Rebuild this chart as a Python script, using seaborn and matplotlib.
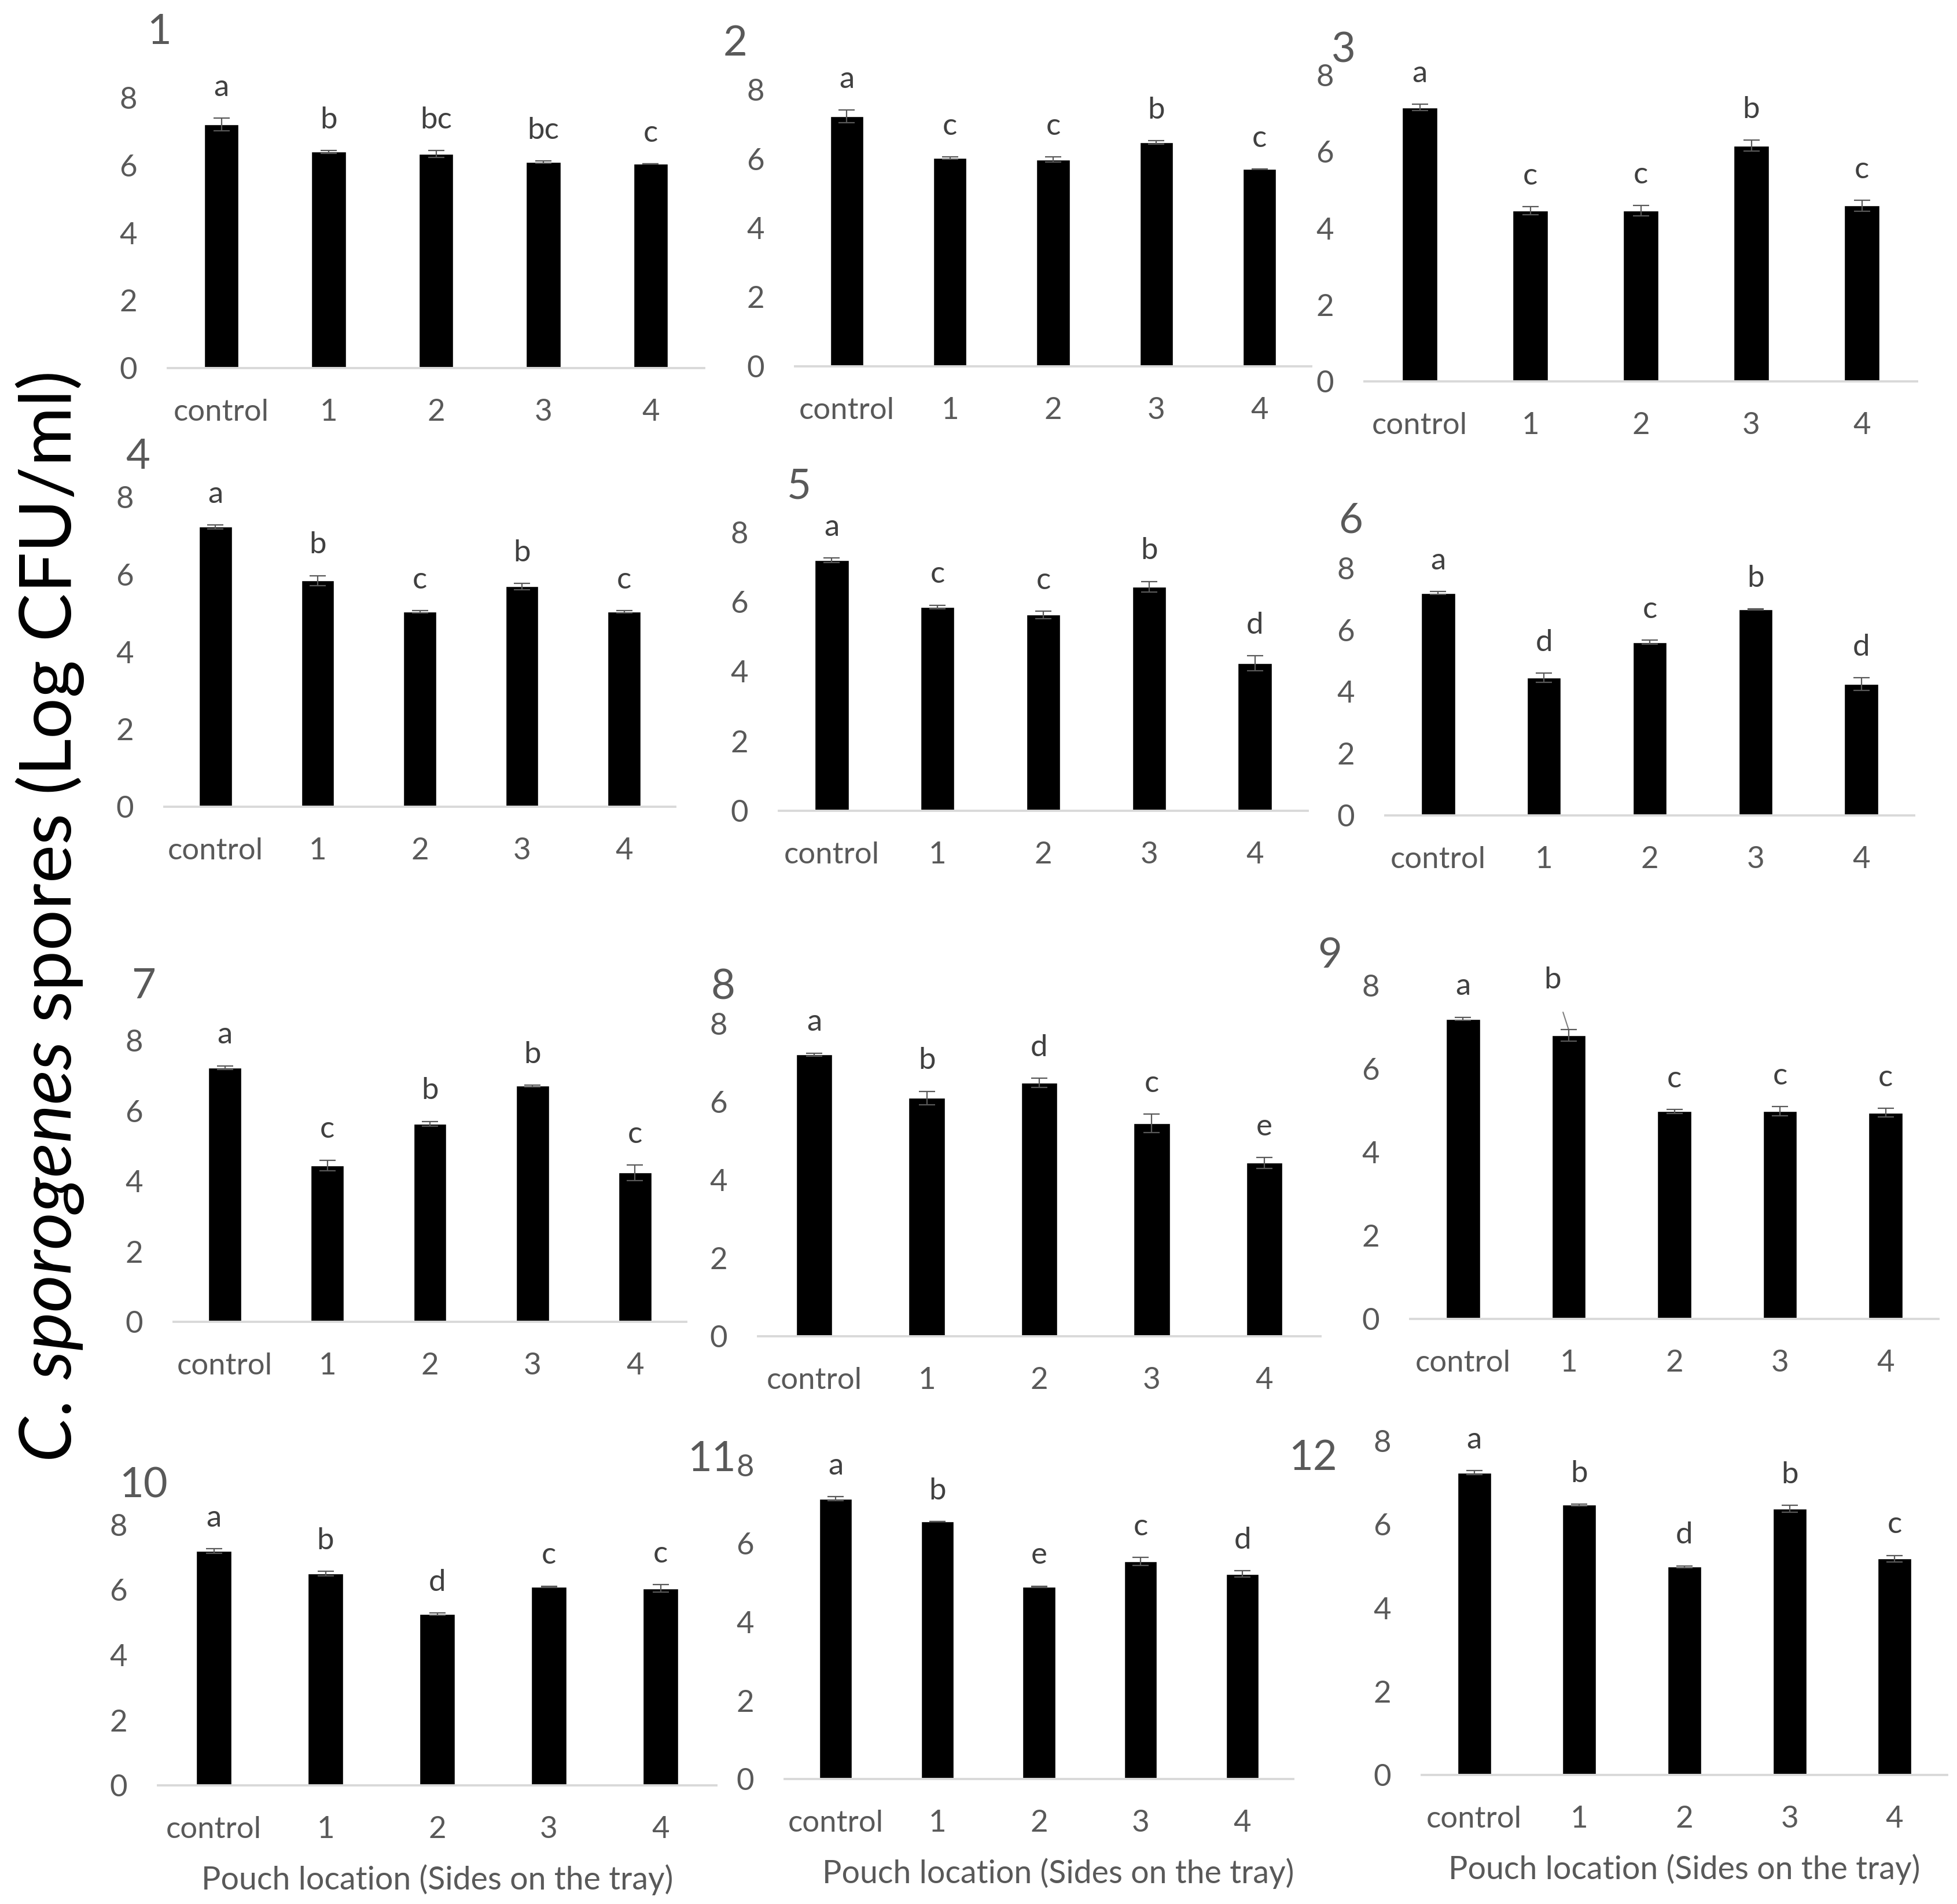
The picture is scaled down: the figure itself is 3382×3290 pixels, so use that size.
import matplotlib
matplotlib.use("Agg")
import matplotlib.pyplot as plt
import seaborn as sns
import numpy as np

# ---------------- data ----------------
CATEGORIES = ["control", "1", "2", "3", "4"]
PANEL_LABELS = ["1", "2", "3", "4", "5", "6", "7", "8", "9", "10", "11", "12"]
YTICKS = [0, 2, 4, 6, 8]

MEANS = [
    [7.21, 6.40, 6.34, 6.10, 6.04],   # 1
    [7.23, 6.03, 5.98, 6.48, 5.71],   # 2
    [7.16, 4.46, 4.46, 6.16, 4.59],   # 3
    [7.23, 5.84, 5.04, 5.69, 5.04],   # 4
    [7.20, 5.86, 5.63, 6.44, 4.24],   # 5
    [7.20, 4.45, 5.61, 6.67, 4.25],   # 6
    [7.23, 4.45, 5.63, 6.71, 4.24],   # 7
    [7.21, 6.10, 6.49, 5.45, 4.44],   # 8
    [7.20, 6.80, 4.98, 4.99, 4.95],   # 9
    [7.20, 6.50, 5.26, 6.10, 6.05],   # 10
    [7.15, 6.57, 4.90, 5.55, 5.23],   # 11
    [7.24, 6.47, 4.99, 6.38, 5.18],   # 12
]
ERRORS = [
    [0.19, 0.04, 0.10, 0.03, 0.00],
    [0.18, 0.03, 0.08, 0.05, 0.00],
    [0.08, 0.11, 0.13, 0.14, 0.14],
    [0.05, 0.13, 0.03, 0.08, 0.03],
    [0.07, 0.05, 0.10, 0.15, 0.21],
    [0.05, 0.15, 0.07, 0.02, 0.20],
    [0.05, 0.15, 0.07, 0.02, 0.22],
    [0.04, 0.17, 0.12, 0.24, 0.14],
    [0.04, 0.14, 0.05, 0.11, 0.10],
    [0.07, 0.07, 0.04, 0.02, 0.12],
    [0.05, 0.00, 0.02, 0.10, 0.08],
    [0.05, 0.02, 0.02, 0.08, 0.08],
]
LETTERS = [
    ["a", "b", "bc", "bc", "c"],
    ["a", "c", "c", "b", "c"],
    ["a", "c", "c", "b", "c"],
    ["a", "b", "c", "b", "c"],
    ["a", "c", "c", "b", "d"],
    ["a", "d", "c", "b", "d"],
    ["a", "c", "b", "b", "c"],
    ["a", "b", "d", "c", "e"],
    ["a", "b", "c", "c", "c"],
    ["a", "b", "d", "c", "c"],
    ["a", "b", "e", "c", "d"],
    ["a", "b", "d", "b", "c"],
]
XLABEL = "Pouch location (Sides on the tray)"

# ---------------- layout (pixels in a 3382x3290 canvas) ----------------
W, H = 3382, 3290
# (left, right, y of 0 tick, y of 8 tick)
AX_PX = [
    (290, 1217, 636, 169),
    (1374, 2266, 633, 155),
    (2358, 3313, 659, 130),
    (284, 1167, 1394, 859),
    (1346, 2260, 1401, 920),
    (2394, 3308, 1409, 982),
    (300, 1186, 2284, 1798),
    (1310, 2282, 2309, 1769),
    (2437, 3350, 2279, 1703),
    (273, 1238, 3085, 2635),
    (1356, 2235, 3074, 2532),
    (2457, 3365, 3067, 2490),
]
NUM_PX = [(275, 55), (1271, 75), (2322, 87), (238, 789), (1381, 841), (2334, 900),
          (248, 1705), (1249, 1706), (2298, 1651), (248, 2567), (1230, 2522), (2269, 2519)]
XLABEL_X = {9: 0.5, 10: 0.538, 11: 0.5}

GRAY = "#595959"
FONT = ["Lato", "DejaVu Sans"]

sns.set_style("white")
plt.rcParams["font.family"] = FONT
plt.rcParams["mathtext.fontset"] = "custom"
plt.rcParams["mathtext.rm"] = "Lato"
plt.rcParams["mathtext.it"] = "Lato:italic"

fig = plt.figure(figsize=(W / 100, H / 100), dpi=100)

TICK_FS = 38
for i in range(12):
    L, R, y0, y8 = AX_PX[i]
    ax = fig.add_axes([L / W, 1 - y0 / H, (R - L) / W, (y0 - y8) / H])
    sns.barplot(x=CATEGORIES, y=MEANS[i], color="black", saturation=1,
                width=0.32, errorbar=None, ax=ax)
    xs = np.arange(len(CATEGORIES))
    ax.errorbar(xs, MEANS[i], yerr=ERRORS[i], fmt="none", ecolor=GRAY,
                elinewidth=1.6, capsize=10, capthick=1.6, zorder=5)
    ax.set_ylim(0, 8)
    ax.set_xlim(-0.5, 4.5)
    ax.set_yticks(YTICKS)
    for s in ["left", "right", "top"]:
        ax.spines[s].set_visible(False)
    ax.spines["bottom"].set_color("#d9d9d9")
    ax.spines["bottom"].set_linewidth(2.8)
    ax.tick_params(axis="y", length=0, pad=38, labelsize=TICK_FS, labelcolor=GRAY)
    ax.tick_params(axis="x", length=0, pad=38, labelsize=TICK_FS, labelcolor=GRAY)
    ax.set_ylabel("")
    ax.set_xlabel("")
    ax.patch.set_alpha(0)

    for j, lab in enumerate(LETTERS[i]):
        top = MEANS[i][j] + ERRORS[i][j]
        if i == 8 and j == 1:
            ax.annotate(lab, xy=(j, top), xytext=(-20, 62), textcoords="offset points",
                        ha="center", va="center", fontsize=TICK_FS, color="#404040",
                        annotation_clip=False,
                        arrowprops=dict(arrowstyle="-", color="#7f7f7f", lw=1.5,
                                        shrinkA=22, shrinkB=0))
        else:
            ax.annotate(lab, xy=(j, top), xytext=(0, 38), textcoords="offset points",
                        ha="center", va="center", fontsize=TICK_FS, color="#404040",
                        annotation_clip=False)

    nx, ny = NUM_PX[i]
    fig.text(nx / W, 1 - ny / H, PANEL_LABELS[i], ha="center", va="center",
             fontsize=52, color=GRAY)

    if i >= 9:
        ax.set_xlabel(XLABEL, fontsize=40, color=GRAY, labelpad=26)
        ax.xaxis.label.set_x(XLABEL_X[i])

fig.text(86 / W, 1 - 1585 / H, r"$\mathit{C.\,sporogenes}$ spores (Log CFU/ml)",
         rotation=90, ha="center", va="center", fontsize=90, color="black")

fig.savefig("out.png", dpi=100, facecolor="white")
